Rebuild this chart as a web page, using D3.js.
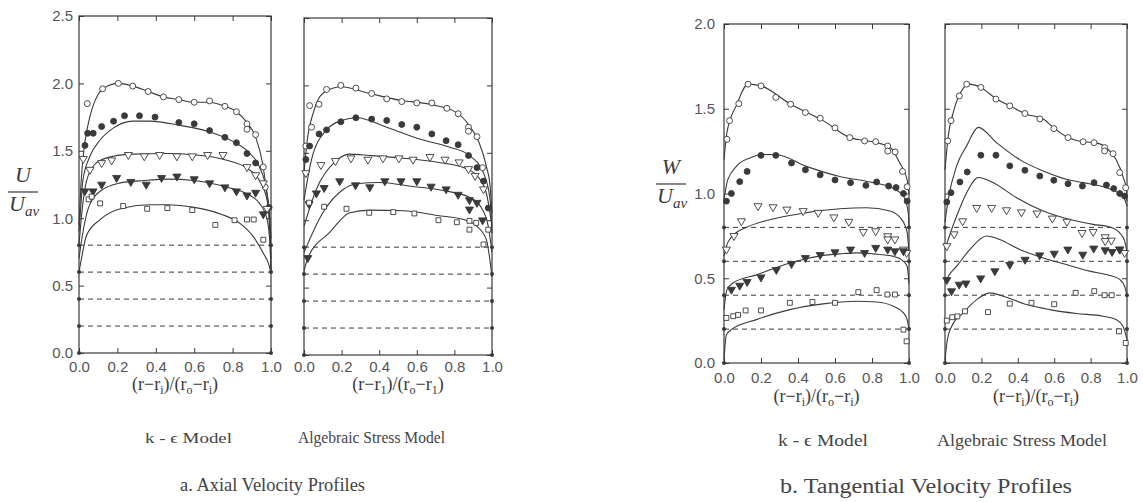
<!DOCTYPE html>
<meta charset="utf-8">
<head>
	<title>Velocity profiles</title>
	<script src="https://cdnjs.cloudflare.com/ajax/libs/d3/7.8.5/d3.min.js"></script>
</head>
<style>
	body { margin: 0; background: #fff; }
	svg { display: block; }
	.tick text { font-family: "Liberation Sans", Arial, sans-serif; font-size: 15px; fill: #555; }
	.cap { font-family: "Liberation Serif", "Times New Roman", serif; fill: #3a3a3a; }
</style>
<body>
<script>
	// profile order, top to bottom: open circle, filled circle, open triangle, filled triangle, open square
	var markerKinds = ["circleOpen", "circleFilled", "triOpen", "triFilled", "squareOpen"];
	var dashedLevels = [0.2, 0.4, 0.6, 0.8];
	var wallLevels = [0, 0.2, 0.4, 0.6, 0.8];
	var xTicks = [0, 0.2, 0.4, 0.6, 0.8, 1.0];
	var axialTicks = [0, 0.5, 1.0, 1.5, 2.0, 2.5];
	var tangTicks = [0, 0.5, 1.0, 1.5, 2.0];

	// a. axial, k-epsilon model
	var axialKeLines = [
		[[0,0.95],[0.01,1.25],[0.025,1.5],[0.045,1.68],[0.07,1.82],[0.1,1.92],[0.13,1.965],[0.205,2.0],[0.28,1.98],[0.36,1.94],[0.44,1.9],[0.52,1.88],[0.6,1.86],[0.675,1.86],[0.76,1.83],[0.82,1.79],[0.875,1.71],[0.92,1.6],[0.957,1.4],[0.975,1.22],[0.99,1.05],[1.0,0.85]],
		[[0,0.9],[0.01,1.1],[0.02,1.28],[0.057,1.46],[0.11,1.58],[0.18,1.67],[0.28,1.72],[0.37,1.72],[0.52,1.69],[0.68,1.64],[0.8,1.57],[0.89,1.48],[0.94,1.38],[0.98,1.18],[0.995,0.95],[1.0,0.7]],
		[[0,0.8],[0.014,1.03],[0.04,1.28],[0.09,1.41],[0.18,1.46],[0.28,1.475],[0.46,1.48],[0.6,1.47],[0.77,1.43],[0.875,1.37],[0.94,1.28],[0.98,1.13],[0.995,0.85],[1.0,0.62]],
		[[0,0.7],[0.014,0.84],[0.05,1.08],[0.11,1.2],[0.21,1.26],[0.34,1.28],[0.46,1.29],[0.6,1.28],[0.77,1.23],[0.875,1.18],[0.94,1.11],[0.98,0.99],[0.995,0.8],[1.0,0.6]],
		[[0,0.6],[0.014,0.71],[0.04,0.875],[0.11,0.99],[0.23,1.075],[0.37,1.1],[0.46,1.1],[0.6,1.08],[0.74,1.03],[0.84,0.96],[0.91,0.86],[0.96,0.74],[0.99,0.65],[1.0,0.59]]
	];
	var axialKeMarks = [
		[[0.043,1.85],[0.123,1.96],[0.205,2.0],[0.28,1.98],[0.36,1.94],[0.44,1.9],[0.52,1.88],[0.6,1.86],[0.68,1.87],[0.76,1.83],[0.82,1.79],[0.875,1.7],[0.875,1.66],[0.92,1.62],[0.96,1.38],[0.97,1.23]],
		[[0.031,1.54],[0.045,1.63],[0.074,1.63],[0.118,1.68],[0.18,1.72],[0.237,1.76],[0.315,1.76],[0.396,1.75],[0.52,1.71],[0.6,1.7],[0.68,1.65],[0.76,1.6],[0.82,1.56],[0.875,1.48],[0.92,1.41],[0.99,1.08]],
		[[0.022,1.44],[0.057,1.36],[0.118,1.41],[0.17,1.43],[0.257,1.47],[0.34,1.46],[0.42,1.47],[0.51,1.46],[0.59,1.46],[0.67,1.47],[0.75,1.47],[0.875,1.38],[0.92,1.32],[0.96,1.26],[0.98,1.07]],
		[[0.03,1.2],[0.073,1.2],[0.118,1.25],[0.196,1.3],[0.27,1.27],[0.35,1.25],[0.43,1.3],[0.51,1.31],[0.6,1.29],[0.68,1.26],[0.76,1.23],[0.82,1.2],[0.875,1.17],[0.92,1.19],[0.96,1.03]],
		[[0.05,1.14],[0.066,1.16],[0.11,1.11],[0.23,1.09],[0.355,1.07],[0.46,1.075],[0.59,1.06],[0.71,0.95],[0.81,0.985],[0.875,0.99],[0.91,0.99],[0.96,0.84]]
	];

	// a. axial, algebraic stress model
	var axialAsmLines = [
		[[0,1.35],[0.016,1.58],[0.05,1.8],[0.1,1.94],[0.196,1.99],[0.35,1.94],[0.51,1.89],[0.67,1.86],[0.81,1.8],[0.88,1.7],[0.93,1.58],[0.97,1.4],[0.99,1.25],[1.0,1.05]],
		[[0,1.15],[0.04,1.45],[0.12,1.67],[0.2,1.74],[0.28,1.76],[0.44,1.69],[0.62,1.6],[0.78,1.54],[0.88,1.48],[0.955,1.35],[0.99,1.15],[1.0,0.9]],
		[[0,0.955],[0.066,1.23],[0.17,1.44],[0.24,1.49],[0.35,1.48],[0.53,1.46],[0.71,1.43],[0.85,1.39],[0.92,1.33],[0.97,1.2],[1.0,0.955]],
		[[0,0.76],[0.1,1.055],[0.21,1.23],[0.28,1.27],[0.4,1.28],[0.58,1.25],[0.74,1.22],[0.88,1.17],[0.94,1.1],[0.98,0.955],[1.0,0.76]],
		[[0,0.62],[0.02,0.72],[0.137,0.91],[0.244,1.055],[0.35,1.075],[0.53,1.07],[0.71,1.035],[0.85,1.005],[0.92,0.955],[0.97,0.856],[1.0,0.58]]
	];
	var axialAsmMarks = [
		[[0.01,1.55],[0.04,1.69],[0.03,1.85],[0.08,1.86],[0.12,1.97],[0.196,2.0],[0.276,1.98],[0.36,1.94],[0.44,1.9],[0.52,1.88],[0.6,1.87],[0.68,1.87],[0.76,1.83],[0.82,1.79],[0.875,1.69],[0.875,1.66],[0.92,1.62],[0.95,1.39]],
		[[0.01,1.45],[0.03,1.55],[0.08,1.64],[0.12,1.67],[0.196,1.73],[0.276,1.76],[0.36,1.75],[0.44,1.74],[0.52,1.71],[0.6,1.69],[0.68,1.64],[0.756,1.59],[0.82,1.56],[0.875,1.48],[0.92,1.39],[0.955,1.29],[0.98,1.09]],
		[[0.01,1.35],[0.09,1.41],[0.167,1.44],[0.25,1.46],[0.34,1.45],[0.42,1.46],[0.505,1.46],[0.58,1.45],[0.67,1.47],[0.75,1.45],[0.825,1.43],[0.875,1.38],[0.91,1.33],[0.955,1.23]],
		[[0.027,1.12],[0.066,1.2],[0.107,1.24],[0.19,1.29],[0.274,1.26],[0.35,1.245],[0.43,1.29],[0.516,1.29],[0.6,1.29],[0.676,1.25],[0.756,1.23],[0.82,1.19],[0.88,1.15],[0.88,1.08],[0.92,1.13],[0.95,1.0],[0.02,0.72]],
		[[0.027,1.13],[0.107,1.1],[0.226,1.085],[0.347,1.055],[0.475,1.06],[0.587,1.05],[0.715,1.0],[0.813,0.985],[0.88,0.995],[0.88,0.93],[0.916,0.98],[0.98,0.93],[0.955,0.82]]
	];

	// b. tangential, k-epsilon model
	var tangKeLines = [
		[[0,1.2],[0.016,1.36],[0.067,1.52],[0.13,1.645],[0.2,1.635],[0.355,1.53],[0.536,1.43],[0.68,1.33],[0.825,1.3],[0.9,1.27],[0.95,1.18],[0.99,1.08],[1.0,1.0]],
		[[0,0.965],[0.02,1.08],[0.067,1.16],[0.14,1.21],[0.21,1.23],[0.28,1.23],[0.445,1.16],[0.626,1.1],[0.807,1.064],[0.915,1.03],[0.97,0.985],[0.996,0.887],[1.0,0.8]],
		[[0,0.63],[0.02,0.71],[0.067,0.77],[0.12,0.8],[0.265,0.85],[0.446,0.887],[0.626,0.91],[0.77,0.916],[0.897,0.897],[0.96,0.847],[0.99,0.77],[1.0,0.65]],
		[[0,0.315],[0.016,0.433],[0.05,0.473],[0.175,0.52],[0.265,0.556],[0.356,0.59],[0.446,0.615],[0.536,0.635],[0.626,0.644],[0.717,0.65],[0.807,0.644],[0.915,0.63],[0.97,0.6],[0.99,0.571],[1.0,0.47]],
		[[0,0.02],[0.013,0.167],[0.04,0.197],[0.175,0.256],[0.356,0.315],[0.536,0.349],[0.717,0.364],[0.825,0.36],[0.915,0.335],[0.97,0.296],[0.99,0.256],[1.0,0.197]]
	];
	var tangKeMarks = [
		[[0.016,1.32],[0.03,1.43],[0.08,1.53],[0.13,1.645],[0.2,1.635],[0.28,1.567],[0.36,1.527],[0.44,1.478],[0.52,1.444],[0.6,1.387],[0.68,1.33],[0.76,1.31],[0.82,1.306],[0.885,1.28],[0.885,1.25],[0.925,1.245],[0.965,1.13],[0.99,1.04]],
		[[0.013,0.955],[0.04,1.0],[0.085,1.07],[0.125,1.13],[0.2,1.225],[0.28,1.225],[0.365,1.18],[0.44,1.14],[0.52,1.11],[0.6,1.08],[0.684,1.064],[0.767,1.048],[0.825,1.068],[0.89,1.044],[0.93,1.035],[0.97,1.0],[0.99,0.955]],
		[[0.013,0.67],[0.054,0.75],[0.094,0.837],[0.184,0.926],[0.265,0.92],[0.34,0.906],[0.428,0.897],[0.509,0.887],[0.594,0.86],[0.675,0.834],[0.753,0.774],[0.82,0.778],[0.885,0.749],[0.885,0.73],[0.924,0.73],[0.97,0.67],[0.987,0.65]],
		[[0.04,0.433],[0.085,0.457],[0.125,0.479],[0.2,0.506],[0.283,0.55],[0.365,0.585],[0.44,0.62],[0.52,0.638],[0.6,0.654],[0.684,0.67],[0.76,0.65],[0.82,0.68],[0.885,0.67],[0.924,0.66],[0.97,0.66]],
		[[0.013,0.266],[0.05,0.276],[0.076,0.284],[0.117,0.31],[0.2,0.31],[0.356,0.355],[0.478,0.36],[0.6,0.355],[0.726,0.418],[0.825,0.43],[0.883,0.404],[0.924,0.404],[0.97,0.197],[0.987,0.128]]
	];

	// b. tangential, algebraic stress model
	var tangAsmLines = [
		[[0,1.14],[0.018,1.34],[0.046,1.48],[0.1,1.62],[0.128,1.645],[0.196,1.626],[0.283,1.557],[0.356,1.517],[0.448,1.468],[0.54,1.44],[0.594,1.39],[0.676,1.33],[0.76,1.305],[0.823,1.3],[0.887,1.27],[0.94,1.2],[0.978,1.1],[0.996,1.025],[1.0,0.956]],
		[[0,0.83],[0.018,0.966],[0.064,1.163],[0.119,1.281],[0.183,1.39],[0.283,1.3],[0.41,1.2],[0.54,1.133],[0.667,1.084],[0.759,1.064],[0.887,1.034],[0.95,1.005],[0.987,0.966],[1.0,0.926]],
		[[0,0.67],[0.018,0.73],[0.064,0.867],[0.119,1.005],[0.183,1.094],[0.265,1.064],[0.393,0.975],[0.54,0.897],[0.686,0.847],[0.814,0.818],[0.905,0.802],[0.96,0.768],[0.987,0.72],[1.0,0.65]],
		[[0,0.473],[0.018,0.512],[0.064,0.571],[0.137,0.67],[0.228,0.749],[0.3,0.729],[0.41,0.67],[0.54,0.62],[0.667,0.581],[0.795,0.542],[0.905,0.516],[0.96,0.493],[0.987,0.453],[1.0,0.394]],
		[[0,0.02],[0.013,0.138],[0.037,0.217],[0.1,0.296],[0.174,0.374],[0.247,0.414],[0.32,0.394],[0.448,0.345],[0.576,0.315],[0.722,0.292],[0.868,0.276],[0.94,0.256],[0.978,0.217],[1.0,0.138]]
	];
	var tangAsmMarks = [
		[[0.015,1.31],[0.033,1.43],[0.079,1.576],[0.119,1.645],[0.197,1.626],[0.28,1.557],[0.356,1.517],[0.439,1.472],[0.521,1.44],[0.598,1.383],[0.676,1.33],[0.759,1.305],[0.819,1.3],[0.877,1.271],[0.877,1.251],[0.923,1.235],[0.96,1.123],[0.993,1.034]],
		[[0.01,0.95],[0.033,1.005],[0.082,1.068],[0.122,1.127],[0.197,1.226],[0.28,1.226],[0.356,1.163],[0.439,1.137],[0.521,1.103],[0.598,1.078],[0.676,1.058],[0.755,1.044],[0.819,1.064],[0.887,1.05],[0.927,1.029],[0.96,1.0],[0.987,0.985]],
		[[0.01,0.69],[0.05,0.76],[0.097,0.837],[0.174,0.916],[0.256,0.916],[0.338,0.902],[0.42,0.89],[0.506,0.883],[0.59,0.853],[0.67,0.834],[0.753,0.768],[0.814,0.774],[0.88,0.743],[0.914,0.723],[0.88,0.72],[0.96,0.67],[0.987,0.65]],
		[[0.01,0.49],[0.036,0.424],[0.078,0.463],[0.115,0.47],[0.196,0.5],[0.274,0.542],[0.356,0.58],[0.44,0.61],[0.52,0.636],[0.6,0.646],[0.675,0.67],[0.757,0.64],[0.817,0.676],[0.88,0.666],[0.918,0.656],[0.96,0.67]],
		[[0.01,0.25],[0.04,0.27],[0.068,0.275],[0.11,0.305],[0.236,0.3],[0.356,0.35],[0.475,0.355],[0.6,0.347],[0.718,0.414],[0.82,0.424],[0.877,0.4],[0.916,0.4],[0.956,0.187],[0.993,0.118]]
	];

	var ink = "#3a3a3a";
	var serif = "'Liberation Serif', 'Times New Roman', serif";

	var svg = d3.select("body").append("svg")
		.attr("width", 1143)
		.attr("height", 502);

	function drawPanel(p) {
		var x = d3.scaleLinear().domain([0, 1]).range([p.left, p.right]);
		var y = d3.scaleLinear().domain([0, p.yMax]).range([p.bottom, p.top]);
		var g = svg.append("g");

		// inward ticks on all four sides
		g.append("g")
			.attr("transform", "translate(0," + p.bottom + ")")
			.call(d3.axisBottom(x).tickValues(xTicks).tickSize(-5).tickPadding(p.xPad).tickFormat(d3.format(".1f")))
			.call(function(s) { s.select(".domain").remove(); s.selectAll("line").attr("stroke", ink); });
		g.append("g")
			.attr("transform", "translate(0," + p.top + ")")
			.call(d3.axisTop(x).tickValues(xTicks).tickSize(-5).tickFormat(""))
			.call(function(s) { s.select(".domain").remove(); s.selectAll("line").attr("stroke", ink); });
		g.append("g")
			.attr("transform", "translate(" + p.left + ",0)")
			.call(d3.axisLeft(y).tickValues(p.yTicks).tickSize(-5).tickPadding(p.yPad)
				.tickFormat(p.showY ? d3.format(".1f") : ""))
			.call(function(s) { s.select(".domain").remove(); s.selectAll("line").attr("stroke", ink); });
		g.append("g")
			.attr("transform", "translate(" + p.right + ",0)")
			.call(d3.axisRight(y).tickValues(p.yTicks).tickSize(-5).tickFormat(""))
			.call(function(s) { s.select(".domain").remove(); s.selectAll("line").attr("stroke", ink); });

		g.append("rect")
			.attr("x", p.left).attr("y", p.top)
			.attr("width", p.right - p.left).attr("height", p.bottom - p.top)
			.attr("fill", "none").attr("stroke", ink).attr("stroke-width", 1.2);

		g.selectAll(".dash")
			.data(dashedLevels)
		 .enter().append("line")
			.attr("x1", x(0)).attr("x2", x(1))
			.attr("y1", function(d) { return y(d); }).attr("y2", function(d) { return y(d); })
			.attr("stroke", ink).attr("stroke-width", 1)
			.attr("stroke-dasharray", "5,4");

		var walls = [];
		wallLevels.forEach(function(v) { walls.push([0, v]); walls.push([1, v]); });
		g.selectAll(".wall")
			.data(walls)
		 .enter().append("circle")
			.attr("cx", function(d) { return x(d[0]); })
			.attr("cy", function(d) { return y(d[1]); })
			.attr("r", 2).attr("fill", ink);

		var line = d3.line()
			.x(function(d) { return x(d[0]); })
			.y(function(d) { return y(d[1]); })
			.curve(d3.curveMonotoneX);

		g.selectAll(".profile")
			.data(p.lines)
		 .enter().append("path")
			.attr("d", line)
			.attr("fill", "none").attr("stroke", ink).attr("stroke-width", 1.1);

		p.marks.forEach(function(set, i) {
			var kind = markerKinds[i];
			var sym = kind.indexOf("circle") === 0 ? d3.symbolCircle
				: kind.indexOf("tri") === 0 ? d3.symbolTriangle : d3.symbolSquare;
			var size = kind.indexOf("circle") === 0 ? 28 : kind.indexOf("tri") === 0 ? 28 : 24;
			var filled = kind.indexOf("Filled") > 0;
			g.selectAll(".m" + i)
				.data(set)
			 .enter().append("path")
				.attr("d", d3.symbol().type(sym).size(size))
				.attr("transform", function(d) {
					return "translate(" + x(d[0]) + "," + y(d[1]) + ")" + (sym === d3.symbolTriangle ? " rotate(180)" : "");
				})
				.attr("fill", filled ? ink : "#fff")
				.attr("stroke", ink).attr("stroke-width", 0.9);
		});

		// x axis title (r - ri)/(ro - ri)
		var t = g.append("text")
			.attr("x", (p.left + p.right) / 2)
			.attr("y", p.titleY)
			.attr("text-anchor", "middle")
			.attr("font-family", serif)
			.attr("fill", ink)
			.style("font-size", "18px");
		t.append("tspan").text("(r\u2212r");
		t.append("tspan").attr("dy", 4).style("font-size", "12px").text(p.sub);
		t.append("tspan").attr("dy", -4).text(")/(r");
		t.append("tspan").attr("dy", 4).style("font-size", "12px").text("o");
		t.append("tspan").attr("dy", -4).text("\u2212r");
		t.append("tspan").attr("dy", 4).style("font-size", "12px").text(p.sub);
		t.append("tspan").attr("dy", -4).text(")");
	}

	drawPanel({left: 79, right: 271, top: 16, bottom: 353, yMax: 2.5, yTicks: axialTicks, showY: true,
		xPad: 8, yPad: 6, titleY: 390, sub: "i", lines: axialKeLines, marks: axialKeMarks});
	drawPanel({left: 304, right: 492, top: 18, bottom: 355, yMax: 2.5, yTicks: axialTicks, showY: false,
		xPad: 6, yPad: 6, titleY: 390, sub: "1", lines: axialAsmLines, marks: axialAsmMarks});
	drawPanel({left: 724, right: 909, top: 24, bottom: 363, yMax: 2.0, yTicks: tangTicks, showY: true,
		xPad: 9, yPad: 9, titleY: 402, sub: "i", lines: tangKeLines, marks: tangKeMarks});
	drawPanel({left: 945, right: 1127, top: 24, bottom: 363, yMax: 2.0, yTicks: tangTicks, showY: false,
		xPad: 9, yPad: 9, titleY: 402, sub: "i", lines: tangAsmLines, marks: tangAsmMarks});

	// y axis labels as fractions
	function fraction(cx, top, letter) {
		var f = svg.append("g")
			.attr("font-family", serif)
			.attr("fill", ink)
			.style("font-style", "italic");
		f.append("text").attr("x", cx).attr("y", top).attr("text-anchor", "middle")
			.style("font-size", "22px").text(letter);
		f.append("line").attr("x1", cx - 15).attr("x2", cx + 15)
			.attr("y1", top + 10).attr("y2", top + 10)
			.attr("stroke", ink).attr("stroke-width", 1.2);
		var u = f.append("text").attr("x", cx - 14).attr("y", top + 29).style("font-size", "22px");
		u.append("tspan").text("U");
		u.append("tspan").attr("dy", 5).style("font-size", "15px").text("av");
	}
	fraction(23, 182, "U");
	fraction(671, 174, "W");

	var captions = [
		{text: "k - \u03f5 Model", x: 145, y: 443, w: 87, size: 15},
		{text: "Algebraic Stress Model", x: 298, y: 443, w: 147, size: 16},
		{text: "a. Axial Velocity Profiles", x: 180, y: 491, w: 185, size: 19},
		{text: "k - \u03f5 Model", x: 778, y: 446, w: 90, size: 16},
		{text: "Algebraic Stress Model", x: 937, y: 446, w: 170, size: 17},
		{text: "b. Tangential Velocity Profiles", x: 780, y: 493, w: 292, size: 20}
	];
	svg.selectAll(".caption")
		.data(captions)
	 .enter().append("text")
		.attr("x", function(d) { return d.x; })
		.attr("y", function(d) { return d.y; })
		.attr("font-family", serif)
		.attr("fill", "#444")
		.attr("textLength", function(d) { return d.w; })
		.attr("lengthAdjust", "spacingAndGlyphs")
		.style("font-size", function(d) { return d.size + "px"; })
		.text(function(d) { return d.text; });
</script>
</body>
